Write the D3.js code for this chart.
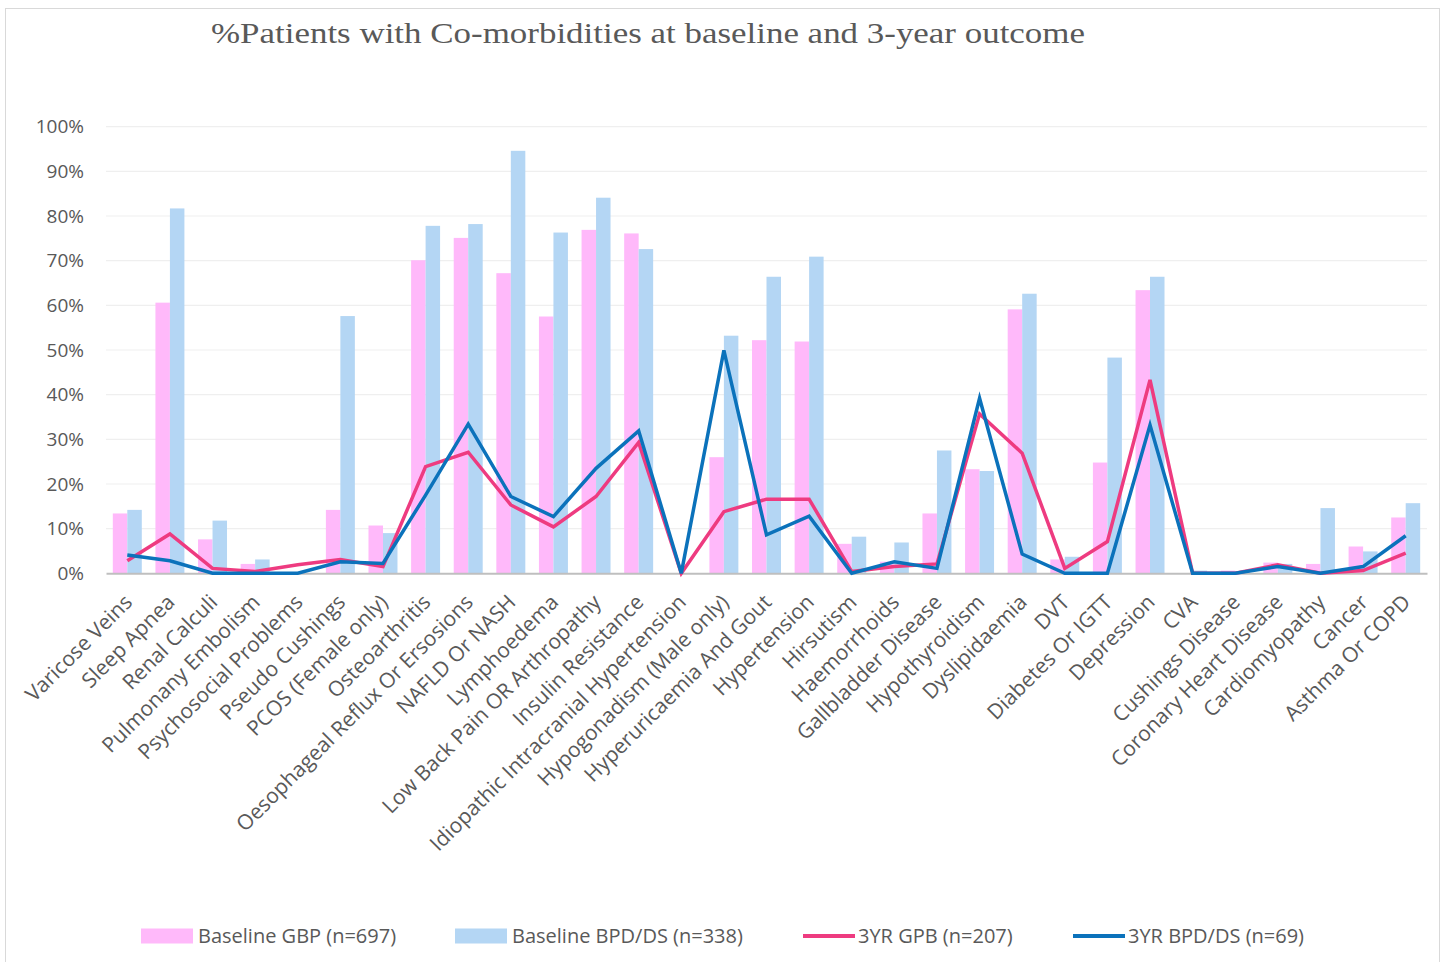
<!DOCTYPE html>
<html>
<head>
<meta charset="utf-8">
<script src="https://cdn.jsdelivr.net/npm/d3@7"></script>
<style>
body { margin: 0; background: #fff; }
svg text { font-family: "Open Sans", sans-serif; fill: #595959; }
</style>
</head>
<body>
<svg id="svg"></svg>
<script>
var width = 1443, height = 962;

var categories = ["Varicose Veins", "Sleep Apnea", "Renal Calculi", "Pulmonany Embolism",
	"Psychosocial Problems", "Pseudo Cushings", "PCOS (Female only)", "Osteoarthritis",
	"Oesophageal Reflux Or Ersosions", "NAFLD Or NASH", "Lymphoedema",
	"Low Back Pain OR Arthropathy", "Insulin Resistance", "Idiopathic Intracranial Hypertension",
	"Hypogonadism (Male only)", "Hyperuricaemia And Gout", "Hypertension", "Hirsutism",
	"Haemorrhoids", "Gallbladder Disease", "Hypothyroidism", "Dyslipidaemia", "DVT",
	"Diabetes Or IGTT", "Depression", "CVA", "Cushings Disease", "Coronary Heart Disease",
	"Cardiomyopathy", "Cancer", "Asthma Or COPD"];

var baselineGBP = [13.4, 60.6, 7.6, 2.1, 0, 14.2, 10.7, 70.1, 75.1, 67.2, 57.5, 76.9, 76.1, 0,
	26.0, 52.2, 51.9, 6.6, 2.6, 13.4, 23.3, 59.1, 3.1, 24.8, 63.4, 0, 0.6, 2.4, 2.1, 6.0, 12.5];
var baselineBPD = [14.2, 81.7, 11.8, 3.1, 0, 57.6, 9.0, 77.8, 78.2, 94.6, 76.3, 84.1, 72.6, 0,
	53.2, 66.4, 70.9, 8.2, 6.9, 27.5, 22.9, 62.6, 3.7, 48.3, 66.4, 0.6, 0, 2.1, 14.6, 4.9, 15.7];
var yr3GPB = [2.8, 8.8, 1.1, 0.4, 1.9, 3.1, 1.5, 23.9, 27.1, 15.3, 10.4, 17.2, 29.3, 0,
	13.8, 16.6, 16.6, 0.4, 1.5, 2.1, 35.7, 26.9, 1.1, 7.1, 43.3, 0, 0, 1.9, 0, 0.6, 4.5];
var yr3BPD = [4.1, 2.8, 0, 0, 0, 2.6, 2.2, 17.5, 33.4, 17.2, 12.7, 23.5, 31.9, 0,
	49.9, 8.6, 12.8, 0, 2.6, 1.1, 39.2, 4.3, 0, 0, 33.2, 0, 0, 1.5, 0, 1.5, 8.4];

var yTicks = [0, 10, 20, 30, 40, 50, 60, 70, 80, 90, 100];

var barSeries = [
	{ name: "Baseline GBP (n=697)", values: baselineGBP, color: "#ffb9fa" },
	{ name: "Baseline BPD/DS (n=338)", values: baselineBPD, color: "#b4d6f4" }
];
var lineSeries = [
	{ name: "3YR GPB (n=207)", values: yr3GPB, color: "#ee3b80" },
	{ name: "3YR BPD/DS (n=69)", values: yr3BPD, color: "#0b72bb" }
];

var svg = d3.select("#svg")
	.attr("width", width)
	.attr("height", height);

// chart frame
svg.append("rect")
	.attr("x", 5.5).attr("y", 8.5)
	.attr("width", 1434).attr("height", 960)
	.attr("fill", "#fff")
	.attr("stroke", "#d9d9d9");

svg.append("text")
	.attr("x", 211).attr("y", 43)
	.attr("textLength", 874)
	.attr("lengthAdjust", "spacingAndGlyphs")
	.style("font-family", "'Liberation Serif', 'DejaVu Serif', serif")
	.style("font-size", "29px")
	.text("%Patients with Co-morbidities at baseline and 3-year outcome");

var margin = { left: 106, right: 16 };

var x = d3.scaleBand()
	.domain(categories)
	.range([margin.left, width - margin.right])
	.paddingInner(0.32)
	.paddingOuter(0.16);

var x1 = d3.scaleBand()
	.domain([0, 1])
	.range([0, x.bandwidth()]);

var y = d3.scaleLinear()
	.domain([0, 100])
	.range([573.3, 126.7]);

// grid
svg.append("g")
	.selectAll("line")
	.data(yTicks.filter(function(d) { return d > 0; }))
	.enter().append("line")
	.attr("x1", margin.left).attr("x2", width - margin.right)
	.attr("y1", function(d) { return y(d); })
	.attr("y2", function(d) { return y(d); })
	.attr("stroke", "#efefef")
	.attr("stroke-width", 1.2);

// y axis
var yAxis = svg.append("g")
	.attr("transform", "translate(" + margin.left + ",0)")
	.call(d3.axisLeft(y).tickValues(yTicks).tickSize(0).tickPadding(22)
		.tickFormat(function(d) { return d + "%"; }));
yAxis.select(".domain").remove();
yAxis.selectAll("text")
	.style("font-size", "19px")
	.attr("fill", "#595959");

// bars
barSeries.forEach(function(s, i) {
	svg.append("g")
		.selectAll("rect")
		.data(s.values)
		.enter().append("rect")
		.attr("x", function(d, j) { return x(categories[j]) + x1(i); })
		.attr("y", function(d) { return y(d); })
		.attr("width", x1.bandwidth())
		.attr("height", function(d) { return y(0) - y(d); })
		.attr("fill", s.color);
});

// x axis
var xAxis = svg.append("g")
	.attr("transform", "translate(0," + y(0) + ")")
	.call(d3.axisBottom(x).tickSize(0).tickPadding(0));
xAxis.select(".domain")
	.attr("stroke", "#bfbfbf")
	.attr("stroke-width", 2);
xAxis.selectAll("text")
	.style("font-size", "21px")
	.attr("fill", "#595959")
	.attr("text-anchor", "end")
	.attr("dy", "0.35em")
	.attr("transform", "translate(1,25) rotate(-45)");

// lines
var line = d3.line()
	.x(function(d, j) { return x(categories[j]) + x.bandwidth() / 2; })
	.y(function(d) { return y(d); });

lineSeries.forEach(function(s) {
	svg.append("path")
		.datum(s.values)
		.attr("d", line)
		.attr("fill", "none")
		.attr("stroke", s.color)
		.attr("stroke-width", 3.5)
		.attr("stroke-linejoin", "miter");
});

// legend
var legendY = 936;
var legendX = [141, 455, 803, 1073];
var legendItems = barSeries.concat(lineSeries);
legendItems.forEach(function(s, i) {
	var g = svg.append("g").attr("transform", "translate(" + legendX[i] + "," + legendY + ")");
	if (i < 2) {
		g.append("rect").attr("x", 0).attr("y", -7.5).attr("width", 52).attr("height", 15).attr("fill", s.color);
	} else {
		g.append("line").attr("x1", 0).attr("x2", 52).attr("y1", 0).attr("y2", 0)
			.attr("stroke", s.color).attr("stroke-width", 4);
	}
	g.append("text")
		.attr("x", i < 2 ? 57 : 55)
		.attr("y", 0)
		.attr("dy", "0.35em")
		.style("font-size", "20px")
		.text(s.name);
});
</script>
</body>
</html>
